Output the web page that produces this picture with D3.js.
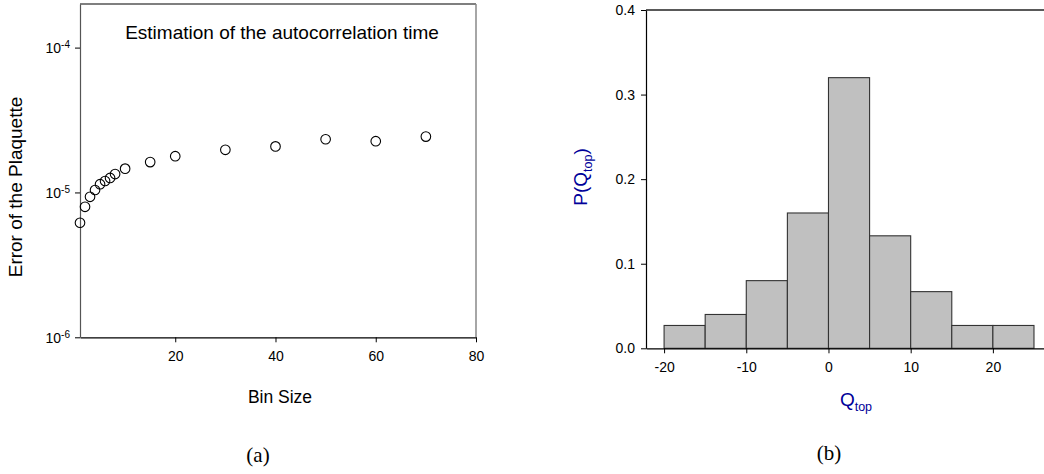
<!DOCTYPE html>
<html>
<head>
<meta charset="utf-8">
<script src="https://cdn.jsdelivr.net/npm/d3@7"></script>
<style>
  body { margin: 0; background: #fff; }
  svg { display: block; }
  .tick text { font-family: Arial, "Liberation Sans", sans-serif; fill: #000; }
</style>
</head>
<body>
<div id="chart"></div>
<script>
//Data for panel (a): bin size vs error of the plaquette
const binSizes = [1, 2, 3, 4, 5, 6, 7, 8, 10, 15, 20, 30, 40, 50, 60, 70];
const plaqErrors = [6.18e-6, 7.96e-6, 9.33e-6, 1.04e-5, 1.14e-5, 1.20e-5, 1.26e-5, 1.34e-5,
                    1.46e-5, 1.62e-5, 1.78e-5, 1.97e-5, 2.08e-5, 2.33e-5, 2.26e-5, 2.43e-5];
const binTicks = [20, 40, 60, 80];
const errTicks = [1e-4, 1e-5, 1e-6];

//Data for panel (b): histogram of the topological charge
const qBinStarts = [-20, -15, -10, -5, 0, 5, 10, 15, 20];
const qBinWidth = 5;
const qProb = [0.027, 0.040, 0.080, 0.160, 0.320, 0.133, 0.067, 0.027, 0.027];
const qTicks = [-20, -10, 0, 10, 20];
const pTicks = [0, 0.1, 0.2, 0.3, 0.4];

const font = 'Arial, "Liberation Sans", sans-serif';
const blue = "#000099";

const svg = d3.select("#chart")
    .append("svg")
    .attr("width", 1044)
    .attr("height", 474);

//---------------- Panel (a) ----------------
const xA = d3.scaleLinear().domain([1, 80]).range([80, 476]);
const yA = d3.scaleLog().domain([1e-6, 2e-4]).range([337.3, 4]);

//frame: top and right edges
svg.append("line")
    .attr("x1", xA(1)).attr("x2", xA(80))
    .attr("y1", yA(2e-4)).attr("y2", yA(2e-4))
    .attr("stroke", "#000").attr("stroke-width", 1.2);
svg.append("line")
    .attr("x1", xA(80)).attr("x2", xA(80))
    .attr("y1", yA(2e-4)).attr("y2", yA(1e-6))
    .attr("stroke", "#888").attr("stroke-width", 1.5);

//x axis
svg.append("g")
    .attr("transform", `translate(0,${yA(1e-6)})`)
    .call(d3.axisBottom(xA).tickValues(binTicks).tickSize(5).tickSizeOuter(0).tickPadding(9))
    .call(g => g.select(".domain").attr("stroke", "#000").attr("stroke-width", 1.2))
    .call(g => g.selectAll(".tick text").attr("font-size", 14));

//y axis with 10^n labels
svg.append("g")
    .attr("transform", `translate(${xA(1)},0)`)
    .call(d3.axisLeft(yA).tickValues(errTicks).tickSize(5).tickSizeOuter(0).tickFormat(""))
    .call(g => g.select(".domain").attr("stroke", "#555").attr("stroke-width", 1.2))
    .call(g => g.selectAll(".tick").each(function (d) {
        const t = d3.select(this).append("text")
            .attr("x", -10).attr("y", 5)
            .attr("text-anchor", "end")
            .attr("font-size", 14);
        t.append("tspan").text("10");
        t.append("tspan").attr("dy", -5).attr("font-size", 10).text(Math.round(Math.log10(d)));
    }));

//scatter points
svg.append("g")
    .selectAll("circle")
    .data(binSizes)
    .join("circle")
    .attr("cx", d => xA(d))
    .attr("cy", (d, i) => yA(plaqErrors[i]))
    .attr("r", 4.8)
    .attr("fill", "none")
    .attr("stroke", "#000")
    .attr("stroke-width", 1.1);

//titles
svg.append("text")
    .attr("x", 282).attr("y", 39)
    .attr("text-anchor", "middle")
    .attr("font-family", font).attr("font-size", 19)
    .text("Estimation of the autocorrelation time");

svg.append("text")
    .attr("x", 280).attr("y", 403)
    .attr("text-anchor", "middle")
    .attr("font-family", font).attr("font-size", 17.5)
    .text("Bin Size");

svg.append("text")
    .attr("transform", "translate(22,187) rotate(-90)")
    .attr("text-anchor", "middle")
    .attr("font-family", font).attr("font-size", 19)
    .text("Error of the Plaquette");

svg.append("text")
    .attr("x", 258).attr("y", 462)
    .attr("text-anchor", "middle")
    .attr("font-family", '"Liberation Serif", "Times New Roman", serif').attr("font-size", 21)
    .text("(a)");

//---------------- Panel (b) ----------------
const xB = d3.scaleLinear().domain([-22.2, 28]).range([646, 646 + 50.2 * 8.22]);
const yB = d3.scaleLinear().domain([0, 0.4]).range([348.3, 10]);

//bars
svg.append("g")
    .selectAll("rect")
    .data(qBinStarts)
    .join("rect")
    .attr("x", d => xB(d))
    .attr("width", xB(qBinWidth) - xB(0))
    .attr("y", (d, i) => yB(qProb[i]))
    .attr("height", (d, i) => yB(0) - yB(qProb[i]))
    .attr("fill", "#c0c0c0")
    .attr("stroke", "#333")
    .attr("stroke-width", 1.1);

//top frame line
svg.append("line")
    .attr("x1", xB(-22.2)).attr("x2", xB(28))
    .attr("y1", yB(0.4)).attr("y2", yB(0.4))
    .attr("stroke", "#222").attr("stroke-width", 1.3);

svg.append("g")
    .attr("transform", `translate(0,${yB(0)})`)
    .call(d3.axisBottom(xB).tickValues(qTicks).tickSize(5).tickSizeOuter(0).tickPadding(9)
        .tickFormat(d => String(d)))
    .call(g => g.select(".domain").attr("stroke", "#000").attr("stroke-width", 1.2))
    .call(g => g.selectAll(".tick text").attr("font-size", 14));

svg.append("g")
    .attr("transform", `translate(${xB(-22.2)},0)`)
    .call(d3.axisLeft(yB).tickValues(pTicks).tickSize(5).tickSizeOuter(0).tickPadding(6)
        .tickFormat(d => d.toFixed(1)))
    .call(g => g.select(".domain").attr("stroke", "#000").attr("stroke-width", 1.2))
    .call(g => g.selectAll(".tick text").attr("font-size", 14));

//axis titles in blue
const pTitle = svg.append("text")
    .attr("transform", "translate(587,177) rotate(-90)")
    .attr("text-anchor", "middle")
    .attr("font-family", font).attr("font-size", 19)
    .attr("fill", blue);
pTitle.append("tspan").text("P(Q");
pTitle.append("tspan").attr("dy", 5).attr("font-size", 12.5).text("top");
pTitle.append("tspan").attr("dy", -5).text(")");

const qTitle = svg.append("text")
    .attr("x", 856).attr("y", 406)
    .attr("text-anchor", "middle")
    .attr("font-family", font).attr("font-size", 19)
    .attr("fill", blue);
qTitle.append("tspan").text("Q");
qTitle.append("tspan").attr("dy", 5).attr("font-size", 12.5).text("top");

svg.append("text")
    .attr("x", 829).attr("y", 460)
    .attr("text-anchor", "middle")
    .attr("font-family", '"Liberation Serif", "Times New Roman", serif').attr("font-size", 21)
    .text("(b)");
</script>
</body>
</html>
